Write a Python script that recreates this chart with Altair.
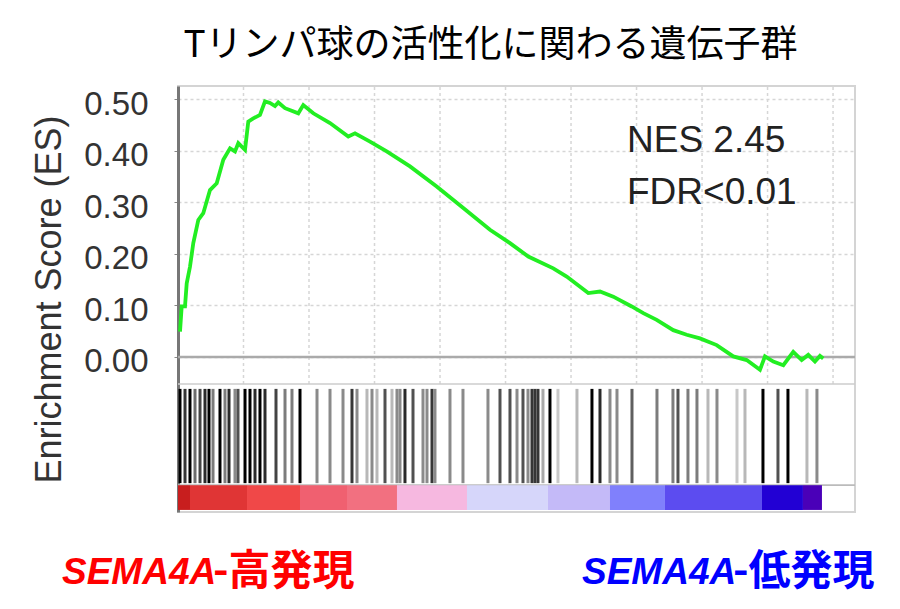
import altair as alt
import pandas as pd

# ---------------- data ----------------
title_text = "Tリンパ球の活性化に関わる遺伝子群"
y_title = "Enrichment Score (ES)"
stats_text = "NES 2.45\nFDR<0.01"
left_gene = "SEMA4A"
left_suffix = "-高発現"
right_gene = "SEMA4A"
right_suffix = "-低発現"

y_ticks = [0.0, 0.1, 0.2, 0.3, 0.4, 0.5]
x_grid = [2000, 4000, 6000, 8000, 10000, 12000, 14000, 16000, 18000, 20000]

# running enrichment score (gene rank, ES)
es_rank = [61, 113, 214, 266, 366, 467, 620, 772, 977, 1182, 1383, 1588, 1740,
           1841, 2046, 2146, 2299, 2503, 2656, 2809, 2961, 3062, 3267, 3673,
           3825, 4131, 4641, 5199, 5404, 5862, 6372, 7083, 7898, 8710, 9525,
           10136, 10695, 11458, 11867, 12527, 12884, 13290, 13852, 14206,
           14615, 15122, 15531, 15937, 16447, 16954, 17363, 17768, 17921,
           18175, 18481, 18785, 19042, 19243, 19447, 19600, 19701]
es_value = [0.049, 0.098, 0.098, 0.143, 0.175, 0.221, 0.266, 0.279, 0.324,
            0.337, 0.383, 0.405, 0.399, 0.415, 0.402, 0.457, 0.463, 0.470,
            0.496, 0.493, 0.487, 0.494, 0.483, 0.473, 0.489, 0.473, 0.454,
            0.428, 0.434, 0.418, 0.399, 0.370, 0.331, 0.289, 0.247, 0.221,
            0.195, 0.172, 0.156, 0.124, 0.127, 0.117, 0.098, 0.085, 0.072,
            0.052, 0.043, 0.036, 0.023, 0.001, -0.006, -0.025, 0.001, -0.009,
            -0.016, 0.010, -0.006, 0.004, -0.009, 0.002, -0.003]

# gene-set hits (rank) and their apparent darkness in the barcode
hit_rank = [61, 214, 366, 519, 672, 824, 946, 1069, 1282, 1435, 1557, 1740,
            1832, 2046, 2198, 2351, 2503, 2656, 2992, 3267, 3480, 3725, 4244,
            4641, 5038, 5312, 5465, 5770, 5923, 6075, 6320, 6533, 6686, 6778,
            6930, 7175, 7480, 7602, 7755, 7846, 8304, 8701, 9464, 9831, 10136,
            10350, 10533, 10686, 10808, 10899, 10991, 11143, 11357, 11601,
            12181, 12639, 12884, 13189, 13403, 13861, 14624, 15112, 15265,
            15570, 15845, 16181, 16456, 17067, 17311, 17860, 18318, 18623,
            19203, 19508]
hit_shade = [1.0, 0.8, 1.0, 0.6, 0.75, 0.85, 1.0, 0.55, 1.0, 0.55, 0.85, 0.5,
             0.7, 1.0, 1.0, 0.85, 1.0, 0.85, 0.75, 0.55, 0.55, 1.0, 0.5, 0.5,
             0.5, 0.8, 0.5, 0.35, 0.5, 0.35, 0.7, 0.35, 0.5, 0.5, 0.85, 0.7,
             0.5, 0.5, 0.8, 0.5, 0.5, 0.5, 0.5, 0.7, 0.7, 0.5, 0.7, 0.5, 0.8,
             0.8, 0.8, 0.4, 1.0, 0.3, 0.35, 1.0, 0.85, 0.5, 0.5, 0.65, 0.55,
             0.55, 0.7, 0.55, 0.55, 0.35, 0.5, 0.3, 0.35, 1.0, 0.7, 1.0, 0.35,
             0.5]

# ranked-list colour bar segments
bar_start = [0, 366, 2107, 3725, 5160, 6686, 8823, 11296, 13189, 14868, 17830, 19081]
bar_end = [366, 2107, 3725, 5160, 6686, 8823, 11296, 13189, 14868, 17830, 19081, 19661]
bar_color = ["#c81e1e", "#e03535", "#f04848", "#f06070", "#f27080", "#f6b8e0",
             "#d6d6fa", "#c4baf8", "#8080fc", "#5c4cf0", "#2200d4", "#4a00b8"]

# ---------------- tables ----------------
es_df = pd.DataFrame({"rank": es_rank, "es": es_value})
hit_df = pd.DataFrame({"rank": hit_rank, "shade": hit_shade})
bar_df = pd.DataFrame({"start": bar_start, "end": bar_end, "color": bar_color})
grid_df = pd.DataFrame({"rank": x_grid})
one = pd.DataFrame({"k": [0]})

xs = alt.Scale(domain=[0, 20670], nice=False, zero=False)
ys = alt.Scale(domain=[-0.301, 0.526], nice=False, zero=False)
yaxis = alt.Axis(values=y_ticks, format=".2f", labelFont="Liberation Sans",
                 labelFontSize=33, labelColor="#333333", labelPadding=26,
                 labelOffset=5, tickSize=4, tickColor="#888888",
                 domainColor="#777777", domainWidth=3, grid=True,
                 gridColor="#d6d6d6", gridDash=[3, 3], gridWidth=1.5,
                 title=y_title, titleFont="Liberation Sans", titleFontSize=36,
                 titleFontWeight="normal", titleColor="#333333", titlePadding=15)


def Y(v):
    return alt.YDatum(v, scale=ys, axis=yaxis, title=y_title, type="quantitative")


vgrid = alt.Chart(grid_df).mark_rule(color="#d6d6d6", strokeDash=[3, 3], strokeWidth=1.5).encode(
    x=alt.X("rank:Q", scale=xs, axis=None),
    y=Y(-0.0525), y2=alt.datum(0.526))

zero = alt.Chart(one).mark_rule(color="#aaaaaa", strokeWidth=2.5).encode(y=Y(0.0))
sep1 = alt.Chart(one).mark_rule(color="#cccccc", strokeWidth=1.5).encode(y=Y(-0.0525))
sep2 = alt.Chart(one).mark_rule(color="#bbbbbb", strokeWidth=1.5).encode(y=Y(-0.249))

line = alt.Chart(es_df).mark_line(color="#22ee22", strokeWidth=3.8).encode(
    x=alt.X("rank:Q", scale=xs, axis=None),
    y=alt.Y("es:Q", scale=ys, axis=yaxis, title=y_title))

hits = alt.Chart(hit_df).mark_rule(strokeWidth=3).encode(
    x=alt.X("rank:Q", scale=xs, axis=None),
    y=Y(-0.062), y2=alt.datum(-0.245),
    color=alt.Color("shade:Q", scale=alt.Scale(domain=[0.3, 1.0], range=["#c8c8c8", "#000000"]),
                    legend=None))

cbar = alt.Chart(bar_df).mark_rect().encode(
    x=alt.X("start:Q", scale=xs, axis=None), x2="end:Q",
    y=Y(-0.249), y2=alt.datum(-0.297),
    color=alt.Color("color:N", scale=None))

stats = alt.Chart(one).mark_text(align="left", baseline="alphabetic", font="Liberation Sans",
                                 fontSize=37, color="#222222", lineBreak="\n",
                                 lineHeight=52).encode(
    x=alt.value(449), y=alt.value(66), text=alt.value(stats_text))

lab1a = alt.Chart(one).mark_text(align="left", baseline="alphabetic", font="Liberation Sans",
                                 fontSize=37, fontStyle="italic", fontWeight="bold",
                                 color="#ff0000").encode(
    x=alt.value(-116), y=alt.value(498), text=alt.value(left_gene))
lab1b = alt.Chart(one).mark_text(align="left", baseline="alphabetic", font="Noto Sans CJK JP",
                                 fontSize=42, fontWeight="bold", color="#ff0000").encode(
    x=alt.value(35), y=alt.value(499), text=alt.value(left_suffix))
lab2a = alt.Chart(one).mark_text(align="left", baseline="alphabetic", font="Liberation Sans",
                                 fontSize=37, fontStyle="italic", fontWeight="bold",
                                 color="#0000ff").encode(
    x=alt.value(404), y=alt.value(498), text=alt.value(right_gene))
lab2b = alt.Chart(one).mark_text(align="left", baseline="alphabetic", font="Noto Sans CJK JP",
                                 fontSize=42, fontWeight="bold", color="#0000ff").encode(
    x=alt.value(555), y=alt.value(499), text=alt.value(right_suffix))

chart = alt.layer(vgrid, zero, sep1, sep2, hits, sep2, cbar, line, stats,
                  lab1a, lab1b, lab2a, lab2b).resolve_scale(color="independent").properties(
    width=677, height=426,
    autosize=alt.AutoSizeParams(type="none"),
    padding={"left": 170, "top": 78, "right": 30, "bottom": 85},
    title=alt.TitleParams(title_text, font="Noto Sans CJK JP", fontSize=37,
                          fontWeight="normal", color="#000000", anchor="middle",
                          frame="group", dx=-26, offset=20),
).configure_view(stroke="#d4d4d4", strokeWidth=2)

chart.save("out.html", embed_options={"renderer": "svg", "actions": False})
